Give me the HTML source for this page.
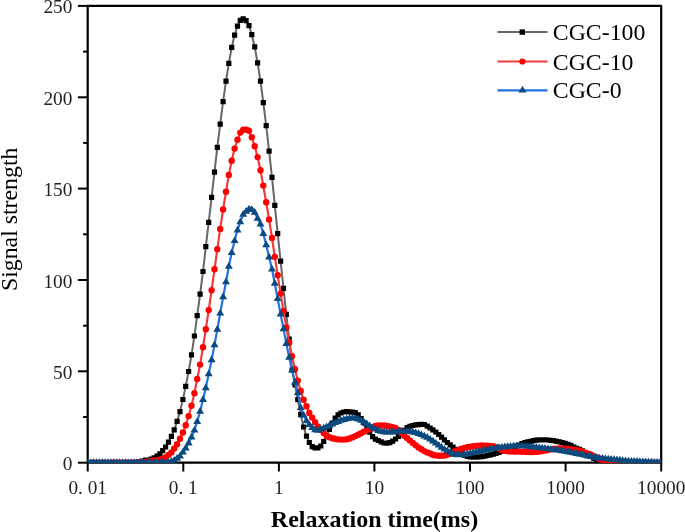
<!DOCTYPE html>
<html><head><meta charset="utf-8"><style>
html,body{margin:0;padding:0;background:#fff;}
body{width:685px;height:532px;overflow:hidden;position:relative;}
svg{position:absolute;left:0;top:0;display:block;will-change:transform;}
text{font-family:"Liberation Serif",serif;fill:#000;}
.t{font-size:19.3px;fill:#222;}
.xt{font-size:24px;font-weight:bold;}
.yt{font-size:23.8px;}
.lg{font-size:23.8px;}
</style></head><body>
<svg width="685" height="532" viewBox="0 0 685 532">
<clipPath id="c"><rect x="87.7" y="5.9" width="573.5" height="457.1"/></clipPath>
<rect x="87.7" y="5.9" width="573.5" height="456.8" fill="none" stroke="#000" stroke-width="2.2" stroke-linejoin="round"/>
<line x1="77.9" y1="462.7" x2="87.7" y2="462.7" stroke="#000" stroke-width="2"/>
<line x1="83.1" y1="417" x2="87.7" y2="417" stroke="#000" stroke-width="2"/>
<line x1="77.9" y1="371.3" x2="87.7" y2="371.3" stroke="#000" stroke-width="2"/>
<line x1="83.1" y1="325.7" x2="87.7" y2="325.7" stroke="#000" stroke-width="2"/>
<line x1="77.9" y1="280" x2="87.7" y2="280" stroke="#000" stroke-width="2"/>
<line x1="83.1" y1="234.3" x2="87.7" y2="234.3" stroke="#000" stroke-width="2"/>
<line x1="77.9" y1="188.6" x2="87.7" y2="188.6" stroke="#000" stroke-width="2"/>
<line x1="83.1" y1="142.9" x2="87.7" y2="142.9" stroke="#000" stroke-width="2"/>
<line x1="77.9" y1="97.3" x2="87.7" y2="97.3" stroke="#000" stroke-width="2"/>
<line x1="83.1" y1="51.6" x2="87.7" y2="51.6" stroke="#000" stroke-width="2"/>
<line x1="77.9" y1="5.9" x2="87.7" y2="5.9" stroke="#000" stroke-width="2"/>
<line x1="87.7" y1="462.7" x2="87.7" y2="471.5" stroke="#000" stroke-width="2"/>
<line x1="183.3" y1="462.7" x2="183.3" y2="471.5" stroke="#000" stroke-width="2"/>
<line x1="278.9" y1="462.7" x2="278.9" y2="471.5" stroke="#000" stroke-width="2"/>
<line x1="374.4" y1="462.7" x2="374.4" y2="471.5" stroke="#000" stroke-width="2"/>
<line x1="470" y1="462.7" x2="470" y2="471.5" stroke="#000" stroke-width="2"/>
<line x1="565.6" y1="462.7" x2="565.6" y2="471.5" stroke="#000" stroke-width="2"/>
<line x1="661.2" y1="462.7" x2="661.2" y2="471.5" stroke="#000" stroke-width="2"/>
<g clip-path="url(#c)">
<path d="M88 462.7 L90.9 462.7 L93.7 462.7 L96.6 462.7 L99.5 462.7 L102.4 462.7 L105.2 462.7 L108.1 462.7 L111 462.7 L113.9 462.7 L116.7 462.7 L119.6 462.7 L122.5 462.7 L125.4 462.7 L128.2 462.6 L131.1 462.6 L134 462.5 L136.9 462.3 L139.7 461.8 L142.6 461.1 L145.5 460.2 L148.4 460.1 L151.2 459 L154.1 457.8 L157 456 L159.9 453.8 L162.7 450.6 L165.6 447 L168.5 442.2 L171.4 436.4 L174.2 429.9 L177.1 421.4 L180 411.6 L182.9 399.5 L185.7 386.4 L188.6 371.5 L191.5 354.8 L194.4 336 L197.2 315.7 L200.1 294.1 L203 271.5 L205.8 246.7 L208.7 222.3 L211.6 197.3 L214.5 172.1 L217.3 147.3 L220.2 124.2 L223.1 101.6 L226 81.2 L228.8 63.4 L231.7 47.4 L234.6 35.2 L237.5 26.2 L240.3 20.3 L243.2 18.9 L246.1 20.6 L249 25.7 L251.8 34.7 L254.7 46.9 L257.6 62.9 L260.5 81.2 L263.3 102.6 L266.2 125.7 L269.1 151.1 L272 177.4 L274.8 205.4 L277.7 233.6 L280.6 261.2 L283.5 288.3 L286.3 314.4 L289.2 339.2 L292.1 370 L295 384.9 L297.8 399.7 L300.7 414.7 L303.6 427 L306.5 436.1 L309.3 442.5 L312.2 446.6 L315.1 448 L317.9 447.8 L320.8 446 L323.7 441.5 L326.6 436.1 L329.4 429.4 L332.3 423 L335.2 418.2 L338.1 414.9 L340.9 413 L343.8 412 L346.7 411.6 L349.6 411.8 L352.4 412.2 L355.3 412.7 L358.2 414.9 L361.1 418.7 L363.9 422.9 L366.8 427.4 L369.7 432.2 L372.6 436.7 L375.4 439.1 L378.3 440.5 L381.2 441.9 L384.1 443 L386.9 443.2 L389.8 442.6 L392.7 441.1 L395.6 439 L398.4 436.4 L401.3 433.5 L404.2 430.4 L407.1 427.5 L409.9 426.3 L412.8 425.5 L415.7 424.9 L418.6 424.6 L421.4 424.3 L424.3 424.5 L427.2 426.1 L430.1 428 L432.9 429.9 L435.8 432 L438.7 434.5 L441.5 437.1 L444.4 439.9 L447.3 442.5 L450.2 444.8 L453 447.1 L455.9 449.3 L458.8 451.6 L461.7 453.7 L464.5 455.4 L467.4 456.5 L470.3 457 L473.2 457.2 L476 457.1 L478.9 456.9 L481.8 456.6 L484.7 456.1 L487.5 455.5 L490.4 454.8 L493.3 454.1 L496.2 453.4 L499 452.5 L501.9 451.4 L504.8 450.7 L507.7 449.7 L510.5 448.5 L513.4 447.3 L516.3 446.2 L519.2 445.1 L522 443.7 L524.9 442.6 L527.8 441.9 L530.7 441.3 L533.5 440.6 L536.4 440.1 L539.3 439.9 L542.2 439.8 L545 439.9 L547.9 440 L550.8 440.3 L553.6 440.7 L556.5 441.3 L559.4 441.9 L562.3 442.6 L565.1 443.4 L568 444.3 L570.9 445.4 L573.8 447 L576.6 448.3 L579.5 449.4 L582.4 450.8 L585.3 452.5 L588.1 454.5 L591 456.5 L593.9 458.5 L596.8 460.2 L599.6 461.3 L602.5 461.8 L605.4 462 L608.3 462.2 L611.1 462.3 L614 462.4 L616.9 462.5 L619.8 462.6 L622.6 462.6 L625.5 462.7 L628.4 462.7 L631.3 462.7 L634.1 462.7 L637 462.7 L639.9 462.7 L642.8 462.7 L645.6 462.7 L648.5 462.7 L651.4 462.7 L654.3 462.7 L657.1 462.7 L660 462.7" fill="none" stroke="#666666" stroke-width="2"/>
<path d="M85.4 460.1h5.2v5.2h-5.2zM88.3 460.1h5.2v5.2h-5.2zM91.1 460.1h5.2v5.2h-5.2zM94 460.1h5.2v5.2h-5.2zM96.9 460.1h5.2v5.2h-5.2zM99.8 460.1h5.2v5.2h-5.2zM102.6 460.1h5.2v5.2h-5.2zM105.5 460.1h5.2v5.2h-5.2zM108.4 460.1h5.2v5.2h-5.2zM111.3 460.1h5.2v5.2h-5.2zM114.1 460.1h5.2v5.2h-5.2zM117 460.1h5.2v5.2h-5.2zM119.9 460.1h5.2v5.2h-5.2zM122.8 460.1h5.2v5.2h-5.2zM125.6 460h5.2v5.2h-5.2zM128.5 460h5.2v5.2h-5.2zM131.4 459.9h5.2v5.2h-5.2zM134.3 459.7h5.2v5.2h-5.2zM137.1 459.2h5.2v5.2h-5.2zM140 458.5h5.2v5.2h-5.2zM142.9 457.6h5.2v5.2h-5.2zM145.8 457.5h5.2v5.2h-5.2zM148.6 456.4h5.2v5.2h-5.2zM151.5 455.2h5.2v5.2h-5.2zM154.4 453.4h5.2v5.2h-5.2zM157.3 451.2h5.2v5.2h-5.2zM160.1 448h5.2v5.2h-5.2zM163 444.4h5.2v5.2h-5.2zM165.9 439.6h5.2v5.2h-5.2zM168.8 433.8h5.2v5.2h-5.2zM171.6 427.3h5.2v5.2h-5.2zM174.5 418.8h5.2v5.2h-5.2zM177.4 409h5.2v5.2h-5.2zM180.3 396.9h5.2v5.2h-5.2zM183.1 383.8h5.2v5.2h-5.2zM186 368.9h5.2v5.2h-5.2zM188.9 352.2h5.2v5.2h-5.2zM191.8 333.4h5.2v5.2h-5.2zM194.6 313.1h5.2v5.2h-5.2zM197.5 291.5h5.2v5.2h-5.2zM200.4 268.9h5.2v5.2h-5.2zM203.2 244.1h5.2v5.2h-5.2zM206.1 219.7h5.2v5.2h-5.2zM209 194.7h5.2v5.2h-5.2zM211.9 169.5h5.2v5.2h-5.2zM214.7 144.7h5.2v5.2h-5.2zM217.6 121.6h5.2v5.2h-5.2zM220.5 99h5.2v5.2h-5.2zM223.4 78.6h5.2v5.2h-5.2zM226.2 60.8h5.2v5.2h-5.2zM229.1 44.8h5.2v5.2h-5.2zM232 32.6h5.2v5.2h-5.2zM234.9 23.6h5.2v5.2h-5.2zM237.7 17.7h5.2v5.2h-5.2zM240.6 16.3h5.2v5.2h-5.2zM243.5 18h5.2v5.2h-5.2zM246.4 23.1h5.2v5.2h-5.2zM249.2 32.1h5.2v5.2h-5.2zM252.1 44.3h5.2v5.2h-5.2zM255 60.3h5.2v5.2h-5.2zM257.9 78.6h5.2v5.2h-5.2zM260.7 100h5.2v5.2h-5.2zM263.6 123.1h5.2v5.2h-5.2zM266.5 148.5h5.2v5.2h-5.2zM269.4 174.8h5.2v5.2h-5.2zM272.2 202.8h5.2v5.2h-5.2zM275.1 231h5.2v5.2h-5.2zM278 258.6h5.2v5.2h-5.2zM280.9 285.7h5.2v5.2h-5.2zM283.7 311.8h5.2v5.2h-5.2zM286.6 336.6h5.2v5.2h-5.2zM289.5 367.4h5.2v5.2h-5.2zM292.4 382.3h5.2v5.2h-5.2zM295.2 397.1h5.2v5.2h-5.2zM298.1 412.1h5.2v5.2h-5.2zM301 424.4h5.2v5.2h-5.2zM303.9 433.5h5.2v5.2h-5.2zM306.7 439.9h5.2v5.2h-5.2zM309.6 444h5.2v5.2h-5.2zM312.5 445.4h5.2v5.2h-5.2zM315.3 445.2h5.2v5.2h-5.2zM318.2 443.4h5.2v5.2h-5.2zM321.1 438.9h5.2v5.2h-5.2zM324 433.5h5.2v5.2h-5.2zM326.8 426.8h5.2v5.2h-5.2zM329.7 420.4h5.2v5.2h-5.2zM332.6 415.6h5.2v5.2h-5.2zM335.5 412.3h5.2v5.2h-5.2zM338.3 410.4h5.2v5.2h-5.2zM341.2 409.4h5.2v5.2h-5.2zM344.1 409h5.2v5.2h-5.2zM347 409.2h5.2v5.2h-5.2zM349.8 409.6h5.2v5.2h-5.2zM352.7 410.1h5.2v5.2h-5.2zM355.6 412.3h5.2v5.2h-5.2zM358.5 416.1h5.2v5.2h-5.2zM361.3 420.3h5.2v5.2h-5.2zM364.2 424.8h5.2v5.2h-5.2zM367.1 429.6h5.2v5.2h-5.2zM370 434.1h5.2v5.2h-5.2zM372.8 436.5h5.2v5.2h-5.2zM375.7 437.9h5.2v5.2h-5.2zM378.6 439.3h5.2v5.2h-5.2zM381.5 440.4h5.2v5.2h-5.2zM384.3 440.6h5.2v5.2h-5.2zM387.2 440h5.2v5.2h-5.2zM390.1 438.5h5.2v5.2h-5.2zM393 436.4h5.2v5.2h-5.2zM395.8 433.8h5.2v5.2h-5.2zM398.7 430.9h5.2v5.2h-5.2zM401.6 427.8h5.2v5.2h-5.2zM404.5 424.9h5.2v5.2h-5.2zM407.3 423.7h5.2v5.2h-5.2zM410.2 422.9h5.2v5.2h-5.2zM413.1 422.3h5.2v5.2h-5.2zM416 422h5.2v5.2h-5.2zM418.8 421.7h5.2v5.2h-5.2zM421.7 421.9h5.2v5.2h-5.2zM424.6 423.5h5.2v5.2h-5.2zM427.5 425.4h5.2v5.2h-5.2zM430.3 427.3h5.2v5.2h-5.2zM433.2 429.4h5.2v5.2h-5.2zM436.1 431.9h5.2v5.2h-5.2zM438.9 434.5h5.2v5.2h-5.2zM441.8 437.3h5.2v5.2h-5.2zM444.7 439.9h5.2v5.2h-5.2zM447.6 442.2h5.2v5.2h-5.2zM450.4 444.5h5.2v5.2h-5.2zM453.3 446.7h5.2v5.2h-5.2zM456.2 449h5.2v5.2h-5.2zM459.1 451.1h5.2v5.2h-5.2zM461.9 452.8h5.2v5.2h-5.2zM464.8 453.9h5.2v5.2h-5.2zM467.7 454.4h5.2v5.2h-5.2zM470.6 454.6h5.2v5.2h-5.2zM473.4 454.5h5.2v5.2h-5.2zM476.3 454.3h5.2v5.2h-5.2zM479.2 454h5.2v5.2h-5.2zM482.1 453.5h5.2v5.2h-5.2zM484.9 452.9h5.2v5.2h-5.2zM487.8 452.2h5.2v5.2h-5.2zM490.7 451.5h5.2v5.2h-5.2zM493.6 450.8h5.2v5.2h-5.2zM496.4 449.9h5.2v5.2h-5.2zM499.3 448.8h5.2v5.2h-5.2zM502.2 448.1h5.2v5.2h-5.2zM505.1 447.1h5.2v5.2h-5.2zM507.9 445.9h5.2v5.2h-5.2zM510.8 444.7h5.2v5.2h-5.2zM513.7 443.6h5.2v5.2h-5.2zM516.6 442.5h5.2v5.2h-5.2zM519.4 441.1h5.2v5.2h-5.2zM522.3 440h5.2v5.2h-5.2zM525.2 439.3h5.2v5.2h-5.2zM528.1 438.7h5.2v5.2h-5.2zM530.9 438h5.2v5.2h-5.2zM533.8 437.5h5.2v5.2h-5.2zM536.7 437.3h5.2v5.2h-5.2zM539.6 437.2h5.2v5.2h-5.2zM542.4 437.3h5.2v5.2h-5.2zM545.3 437.4h5.2v5.2h-5.2zM548.2 437.7h5.2v5.2h-5.2zM551 438.1h5.2v5.2h-5.2zM553.9 438.7h5.2v5.2h-5.2zM556.8 439.3h5.2v5.2h-5.2zM559.7 440h5.2v5.2h-5.2zM562.5 440.8h5.2v5.2h-5.2zM565.4 441.7h5.2v5.2h-5.2zM568.3 442.8h5.2v5.2h-5.2zM571.2 444.4h5.2v5.2h-5.2zM574 445.7h5.2v5.2h-5.2zM576.9 446.8h5.2v5.2h-5.2zM579.8 448.2h5.2v5.2h-5.2zM582.7 449.9h5.2v5.2h-5.2zM585.5 451.9h5.2v5.2h-5.2zM588.4 453.9h5.2v5.2h-5.2zM591.3 455.9h5.2v5.2h-5.2zM594.2 457.6h5.2v5.2h-5.2zM597 458.7h5.2v5.2h-5.2zM599.9 459.2h5.2v5.2h-5.2zM602.8 459.4h5.2v5.2h-5.2zM605.7 459.6h5.2v5.2h-5.2zM608.5 459.7h5.2v5.2h-5.2zM611.4 459.8h5.2v5.2h-5.2zM614.3 459.9h5.2v5.2h-5.2zM617.2 460h5.2v5.2h-5.2zM620 460h5.2v5.2h-5.2zM622.9 460.1h5.2v5.2h-5.2zM625.8 460.1h5.2v5.2h-5.2zM628.7 460.1h5.2v5.2h-5.2zM631.5 460.1h5.2v5.2h-5.2zM634.4 460.1h5.2v5.2h-5.2zM637.3 460.1h5.2v5.2h-5.2zM640.2 460.1h5.2v5.2h-5.2zM643 460.1h5.2v5.2h-5.2zM645.9 460.1h5.2v5.2h-5.2zM648.8 460.1h5.2v5.2h-5.2zM651.7 460.1h5.2v5.2h-5.2zM654.5 460.1h5.2v5.2h-5.2zM657.4 460.1h5.2v5.2h-5.2z" fill="#000"/>
<path d="M88 462.7 L90.9 462.7 L93.7 462.7 L96.6 462.7 L99.5 462.7 L102.4 462.7 L105.2 462.7 L108.1 462.7 L111 462.7 L113.9 462.7 L116.7 462.7 L119.6 462.7 L122.5 462.7 L125.4 462.7 L128.2 462.7 L131.1 462.7 L134 462.6 L136.9 462.5 L139.7 462.4 L142.6 462.2 L145.5 461.9 L148.4 461.5 L151.2 461 L154.1 460.5 L157 460.1 L159.9 459.7 L162.7 458.6 L165.6 457.1 L168.5 455 L171.4 452.4 L174.2 448.5 L177.1 444.2 L180 438.8 L182.9 432.5 L185.7 425.3 L188.6 416.1 L191.5 405.7 L194.4 393.2 L197.2 379 L200.1 364.6 L203 347.3 L205.8 329.2 L208.7 310.1 L211.6 290.3 L214.5 269.3 L217.3 249.2 L220.2 228.9 L223.1 209.5 L226 191.7 L228.8 174.9 L231.7 160.8 L234.6 148.6 L237.5 139.8 L240.3 132.6 L243.2 129.8 L246.1 129.6 L249 130.8 L251.8 137.3 L254.7 146.2 L257.6 157.1 L260.5 170.2 L263.3 185.6 L266.2 202.2 L269.1 219.5 L272 237.9 L274.8 256.7 L277.7 275.3 L280.6 293.6 L283.5 310.9 L286.3 327.4 L289.2 342.7 L292.1 356.2 L295 369.3 L297.8 380.6 L300.7 391 L303.6 399.7 L306.5 406.3 L309.3 413 L312.2 417.6 L315.1 422.1 L317.9 426.4 L320.8 429.7 L323.7 432.9 L326.6 435.9 L329.4 437.3 L332.3 438.3 L335.2 438.9 L338.1 439.4 L340.9 439.6 L343.8 439.6 L346.7 439.3 L349.6 438.5 L352.4 437.4 L355.3 436.1 L358.2 434.7 L361.1 433.2 L363.9 431.8 L366.8 430.4 L369.7 428.8 L372.6 427.2 L375.4 426 L378.3 425.5 L381.2 425.4 L384.1 425.5 L386.9 426 L389.8 426.5 L392.7 427.1 L395.6 428 L398.4 429.9 L401.3 432.9 L404.2 435.7 L407.1 438 L409.9 440.4 L412.8 442.9 L415.7 445.3 L418.6 447.4 L421.4 449.3 L424.3 451.1 L427.2 452.4 L430.1 453.5 L432.9 454.7 L435.8 455.4 L438.7 455.8 L441.5 455.8 L444.4 455.5 L447.3 454.8 L450.2 453.7 L453 452.1 L455.9 450.7 L458.8 450 L461.7 448.8 L464.5 447.9 L467.4 447.3 L470.3 446.8 L473.2 446.3 L476 446 L478.9 445.7 L481.8 445.5 L484.7 445.6 L487.5 445.8 L490.4 446 L493.3 446.3 L496.2 447.2 L499 448.6 L501.9 449.9 L504.8 450.9 L507.7 451.3 L510.5 451.4 L513.4 451.5 L516.3 451.6 L519.2 451.6 L522 451.7 L524.9 451.8 L527.8 451.9 L530.7 452 L533.5 452 L536.4 451.9 L539.3 451.6 L542.2 451.1 L545 450.6 L547.9 450 L550.8 449.4 L553.6 448.9 L556.5 448.6 L559.4 448.5 L562.3 448.5 L565.1 448.7 L568 448.9 L570.9 449.3 L573.8 449.7 L576.6 450.1 L579.5 450.7 L582.4 451.7 L585.3 452.7 L588.1 453.7 L591 454.8 L593.9 456.1 L596.8 457.5 L599.6 458.9 L602.5 460.2 L605.4 461.1 L608.3 461.6 L611.1 461.9 L614 462.2 L616.9 462.3 L619.8 462.4 L622.6 462.5 L625.5 462.5 L628.4 462.6 L631.3 462.6 L634.1 462.6 L637 462.7 L639.9 462.7 L642.8 462.7 L645.6 462.7 L648.5 462.7 L651.4 462.7 L654.3 462.7 L657.1 462.7 L660 462.7" fill="none" stroke="#f23c3c" stroke-width="2.2"/>
<path d="M84.8 462.7a3.2 3.2 0 1 0 6.4 0a3.2 3.2 0 1 0 -6.4 0zM87.7 462.7a3.2 3.2 0 1 0 6.4 0a3.2 3.2 0 1 0 -6.4 0zM90.5 462.7a3.2 3.2 0 1 0 6.4 0a3.2 3.2 0 1 0 -6.4 0zM93.4 462.7a3.2 3.2 0 1 0 6.4 0a3.2 3.2 0 1 0 -6.4 0zM96.3 462.7a3.2 3.2 0 1 0 6.4 0a3.2 3.2 0 1 0 -6.4 0zM99.2 462.7a3.2 3.2 0 1 0 6.4 0a3.2 3.2 0 1 0 -6.4 0zM102 462.7a3.2 3.2 0 1 0 6.4 0a3.2 3.2 0 1 0 -6.4 0zM104.9 462.7a3.2 3.2 0 1 0 6.4 0a3.2 3.2 0 1 0 -6.4 0zM107.8 462.7a3.2 3.2 0 1 0 6.4 0a3.2 3.2 0 1 0 -6.4 0zM110.7 462.7a3.2 3.2 0 1 0 6.4 0a3.2 3.2 0 1 0 -6.4 0zM113.5 462.7a3.2 3.2 0 1 0 6.4 0a3.2 3.2 0 1 0 -6.4 0zM116.4 462.7a3.2 3.2 0 1 0 6.4 0a3.2 3.2 0 1 0 -6.4 0zM119.3 462.7a3.2 3.2 0 1 0 6.4 0a3.2 3.2 0 1 0 -6.4 0zM122.2 462.7a3.2 3.2 0 1 0 6.4 0a3.2 3.2 0 1 0 -6.4 0zM125 462.7a3.2 3.2 0 1 0 6.4 0a3.2 3.2 0 1 0 -6.4 0zM127.9 462.7a3.2 3.2 0 1 0 6.4 0a3.2 3.2 0 1 0 -6.4 0zM130.8 462.6a3.2 3.2 0 1 0 6.4 0a3.2 3.2 0 1 0 -6.4 0zM133.7 462.5a3.2 3.2 0 1 0 6.4 0a3.2 3.2 0 1 0 -6.4 0zM136.5 462.4a3.2 3.2 0 1 0 6.4 0a3.2 3.2 0 1 0 -6.4 0zM139.4 462.2a3.2 3.2 0 1 0 6.4 0a3.2 3.2 0 1 0 -6.4 0zM142.3 461.9a3.2 3.2 0 1 0 6.4 0a3.2 3.2 0 1 0 -6.4 0zM145.2 461.5a3.2 3.2 0 1 0 6.4 0a3.2 3.2 0 1 0 -6.4 0zM148 461a3.2 3.2 0 1 0 6.4 0a3.2 3.2 0 1 0 -6.4 0zM150.9 460.5a3.2 3.2 0 1 0 6.4 0a3.2 3.2 0 1 0 -6.4 0zM153.8 460.1a3.2 3.2 0 1 0 6.4 0a3.2 3.2 0 1 0 -6.4 0zM156.7 459.7a3.2 3.2 0 1 0 6.4 0a3.2 3.2 0 1 0 -6.4 0zM159.5 458.6a3.2 3.2 0 1 0 6.4 0a3.2 3.2 0 1 0 -6.4 0zM162.4 457.1a3.2 3.2 0 1 0 6.4 0a3.2 3.2 0 1 0 -6.4 0zM165.3 455a3.2 3.2 0 1 0 6.4 0a3.2 3.2 0 1 0 -6.4 0zM168.2 452.4a3.2 3.2 0 1 0 6.4 0a3.2 3.2 0 1 0 -6.4 0zM171 448.5a3.2 3.2 0 1 0 6.4 0a3.2 3.2 0 1 0 -6.4 0zM173.9 444.2a3.2 3.2 0 1 0 6.4 0a3.2 3.2 0 1 0 -6.4 0zM176.8 438.8a3.2 3.2 0 1 0 6.4 0a3.2 3.2 0 1 0 -6.4 0zM179.7 432.5a3.2 3.2 0 1 0 6.4 0a3.2 3.2 0 1 0 -6.4 0zM182.5 425.3a3.2 3.2 0 1 0 6.4 0a3.2 3.2 0 1 0 -6.4 0zM185.4 416.1a3.2 3.2 0 1 0 6.4 0a3.2 3.2 0 1 0 -6.4 0zM188.3 405.7a3.2 3.2 0 1 0 6.4 0a3.2 3.2 0 1 0 -6.4 0zM191.2 393.2a3.2 3.2 0 1 0 6.4 0a3.2 3.2 0 1 0 -6.4 0zM194 379a3.2 3.2 0 1 0 6.4 0a3.2 3.2 0 1 0 -6.4 0zM196.9 364.6a3.2 3.2 0 1 0 6.4 0a3.2 3.2 0 1 0 -6.4 0zM199.8 347.3a3.2 3.2 0 1 0 6.4 0a3.2 3.2 0 1 0 -6.4 0zM202.6 329.2a3.2 3.2 0 1 0 6.4 0a3.2 3.2 0 1 0 -6.4 0zM205.5 310.1a3.2 3.2 0 1 0 6.4 0a3.2 3.2 0 1 0 -6.4 0zM208.4 290.3a3.2 3.2 0 1 0 6.4 0a3.2 3.2 0 1 0 -6.4 0zM211.3 269.3a3.2 3.2 0 1 0 6.4 0a3.2 3.2 0 1 0 -6.4 0zM214.1 249.2a3.2 3.2 0 1 0 6.4 0a3.2 3.2 0 1 0 -6.4 0zM217 228.9a3.2 3.2 0 1 0 6.4 0a3.2 3.2 0 1 0 -6.4 0zM219.9 209.5a3.2 3.2 0 1 0 6.4 0a3.2 3.2 0 1 0 -6.4 0zM222.8 191.7a3.2 3.2 0 1 0 6.4 0a3.2 3.2 0 1 0 -6.4 0zM225.6 174.9a3.2 3.2 0 1 0 6.4 0a3.2 3.2 0 1 0 -6.4 0zM228.5 160.8a3.2 3.2 0 1 0 6.4 0a3.2 3.2 0 1 0 -6.4 0zM231.4 148.6a3.2 3.2 0 1 0 6.4 0a3.2 3.2 0 1 0 -6.4 0zM234.3 139.8a3.2 3.2 0 1 0 6.4 0a3.2 3.2 0 1 0 -6.4 0zM237.1 132.6a3.2 3.2 0 1 0 6.4 0a3.2 3.2 0 1 0 -6.4 0zM240 129.8a3.2 3.2 0 1 0 6.4 0a3.2 3.2 0 1 0 -6.4 0zM242.9 129.6a3.2 3.2 0 1 0 6.4 0a3.2 3.2 0 1 0 -6.4 0zM245.8 130.8a3.2 3.2 0 1 0 6.4 0a3.2 3.2 0 1 0 -6.4 0zM248.6 137.3a3.2 3.2 0 1 0 6.4 0a3.2 3.2 0 1 0 -6.4 0zM251.5 146.2a3.2 3.2 0 1 0 6.4 0a3.2 3.2 0 1 0 -6.4 0zM254.4 157.1a3.2 3.2 0 1 0 6.4 0a3.2 3.2 0 1 0 -6.4 0zM257.3 170.2a3.2 3.2 0 1 0 6.4 0a3.2 3.2 0 1 0 -6.4 0zM260.1 185.6a3.2 3.2 0 1 0 6.4 0a3.2 3.2 0 1 0 -6.4 0zM263 202.2a3.2 3.2 0 1 0 6.4 0a3.2 3.2 0 1 0 -6.4 0zM265.9 219.5a3.2 3.2 0 1 0 6.4 0a3.2 3.2 0 1 0 -6.4 0zM268.8 237.9a3.2 3.2 0 1 0 6.4 0a3.2 3.2 0 1 0 -6.4 0zM271.6 256.7a3.2 3.2 0 1 0 6.4 0a3.2 3.2 0 1 0 -6.4 0zM274.5 275.3a3.2 3.2 0 1 0 6.4 0a3.2 3.2 0 1 0 -6.4 0zM277.4 293.6a3.2 3.2 0 1 0 6.4 0a3.2 3.2 0 1 0 -6.4 0zM280.3 310.9a3.2 3.2 0 1 0 6.4 0a3.2 3.2 0 1 0 -6.4 0zM283.1 327.4a3.2 3.2 0 1 0 6.4 0a3.2 3.2 0 1 0 -6.4 0zM286 342.7a3.2 3.2 0 1 0 6.4 0a3.2 3.2 0 1 0 -6.4 0zM288.9 356.2a3.2 3.2 0 1 0 6.4 0a3.2 3.2 0 1 0 -6.4 0zM291.8 369.3a3.2 3.2 0 1 0 6.4 0a3.2 3.2 0 1 0 -6.4 0zM294.6 380.6a3.2 3.2 0 1 0 6.4 0a3.2 3.2 0 1 0 -6.4 0zM297.5 391a3.2 3.2 0 1 0 6.4 0a3.2 3.2 0 1 0 -6.4 0zM300.4 399.7a3.2 3.2 0 1 0 6.4 0a3.2 3.2 0 1 0 -6.4 0zM303.3 406.3a3.2 3.2 0 1 0 6.4 0a3.2 3.2 0 1 0 -6.4 0zM306.1 413a3.2 3.2 0 1 0 6.4 0a3.2 3.2 0 1 0 -6.4 0zM309 417.6a3.2 3.2 0 1 0 6.4 0a3.2 3.2 0 1 0 -6.4 0zM311.9 422.1a3.2 3.2 0 1 0 6.4 0a3.2 3.2 0 1 0 -6.4 0zM314.7 426.4a3.2 3.2 0 1 0 6.4 0a3.2 3.2 0 1 0 -6.4 0zM317.6 429.7a3.2 3.2 0 1 0 6.4 0a3.2 3.2 0 1 0 -6.4 0zM320.5 432.9a3.2 3.2 0 1 0 6.4 0a3.2 3.2 0 1 0 -6.4 0zM323.4 435.9a3.2 3.2 0 1 0 6.4 0a3.2 3.2 0 1 0 -6.4 0zM326.2 437.3a3.2 3.2 0 1 0 6.4 0a3.2 3.2 0 1 0 -6.4 0zM329.1 438.3a3.2 3.2 0 1 0 6.4 0a3.2 3.2 0 1 0 -6.4 0zM332 438.9a3.2 3.2 0 1 0 6.4 0a3.2 3.2 0 1 0 -6.4 0zM334.9 439.4a3.2 3.2 0 1 0 6.4 0a3.2 3.2 0 1 0 -6.4 0zM337.7 439.6a3.2 3.2 0 1 0 6.4 0a3.2 3.2 0 1 0 -6.4 0zM340.6 439.6a3.2 3.2 0 1 0 6.4 0a3.2 3.2 0 1 0 -6.4 0zM343.5 439.3a3.2 3.2 0 1 0 6.4 0a3.2 3.2 0 1 0 -6.4 0zM346.4 438.5a3.2 3.2 0 1 0 6.4 0a3.2 3.2 0 1 0 -6.4 0zM349.2 437.4a3.2 3.2 0 1 0 6.4 0a3.2 3.2 0 1 0 -6.4 0zM352.1 436.1a3.2 3.2 0 1 0 6.4 0a3.2 3.2 0 1 0 -6.4 0zM355 434.7a3.2 3.2 0 1 0 6.4 0a3.2 3.2 0 1 0 -6.4 0zM357.9 433.2a3.2 3.2 0 1 0 6.4 0a3.2 3.2 0 1 0 -6.4 0zM360.7 431.8a3.2 3.2 0 1 0 6.4 0a3.2 3.2 0 1 0 -6.4 0zM363.6 430.4a3.2 3.2 0 1 0 6.4 0a3.2 3.2 0 1 0 -6.4 0zM366.5 428.8a3.2 3.2 0 1 0 6.4 0a3.2 3.2 0 1 0 -6.4 0zM369.4 427.2a3.2 3.2 0 1 0 6.4 0a3.2 3.2 0 1 0 -6.4 0zM372.2 426a3.2 3.2 0 1 0 6.4 0a3.2 3.2 0 1 0 -6.4 0zM375.1 425.5a3.2 3.2 0 1 0 6.4 0a3.2 3.2 0 1 0 -6.4 0zM378 425.4a3.2 3.2 0 1 0 6.4 0a3.2 3.2 0 1 0 -6.4 0zM380.9 425.5a3.2 3.2 0 1 0 6.4 0a3.2 3.2 0 1 0 -6.4 0zM383.7 426a3.2 3.2 0 1 0 6.4 0a3.2 3.2 0 1 0 -6.4 0zM386.6 426.5a3.2 3.2 0 1 0 6.4 0a3.2 3.2 0 1 0 -6.4 0zM389.5 427.1a3.2 3.2 0 1 0 6.4 0a3.2 3.2 0 1 0 -6.4 0zM392.4 428a3.2 3.2 0 1 0 6.4 0a3.2 3.2 0 1 0 -6.4 0zM395.2 429.9a3.2 3.2 0 1 0 6.4 0a3.2 3.2 0 1 0 -6.4 0zM398.1 432.9a3.2 3.2 0 1 0 6.4 0a3.2 3.2 0 1 0 -6.4 0zM401 435.7a3.2 3.2 0 1 0 6.4 0a3.2 3.2 0 1 0 -6.4 0zM403.9 438a3.2 3.2 0 1 0 6.4 0a3.2 3.2 0 1 0 -6.4 0zM406.7 440.4a3.2 3.2 0 1 0 6.4 0a3.2 3.2 0 1 0 -6.4 0zM409.6 442.9a3.2 3.2 0 1 0 6.4 0a3.2 3.2 0 1 0 -6.4 0zM412.5 445.3a3.2 3.2 0 1 0 6.4 0a3.2 3.2 0 1 0 -6.4 0zM415.4 447.4a3.2 3.2 0 1 0 6.4 0a3.2 3.2 0 1 0 -6.4 0zM418.2 449.3a3.2 3.2 0 1 0 6.4 0a3.2 3.2 0 1 0 -6.4 0zM421.1 451.1a3.2 3.2 0 1 0 6.4 0a3.2 3.2 0 1 0 -6.4 0zM424 452.4a3.2 3.2 0 1 0 6.4 0a3.2 3.2 0 1 0 -6.4 0zM426.9 453.5a3.2 3.2 0 1 0 6.4 0a3.2 3.2 0 1 0 -6.4 0zM429.7 454.7a3.2 3.2 0 1 0 6.4 0a3.2 3.2 0 1 0 -6.4 0zM432.6 455.4a3.2 3.2 0 1 0 6.4 0a3.2 3.2 0 1 0 -6.4 0zM435.5 455.8a3.2 3.2 0 1 0 6.4 0a3.2 3.2 0 1 0 -6.4 0zM438.3 455.8a3.2 3.2 0 1 0 6.4 0a3.2 3.2 0 1 0 -6.4 0zM441.2 455.5a3.2 3.2 0 1 0 6.4 0a3.2 3.2 0 1 0 -6.4 0zM444.1 454.8a3.2 3.2 0 1 0 6.4 0a3.2 3.2 0 1 0 -6.4 0zM447 453.7a3.2 3.2 0 1 0 6.4 0a3.2 3.2 0 1 0 -6.4 0zM449.8 452.1a3.2 3.2 0 1 0 6.4 0a3.2 3.2 0 1 0 -6.4 0zM452.7 450.7a3.2 3.2 0 1 0 6.4 0a3.2 3.2 0 1 0 -6.4 0zM455.6 450a3.2 3.2 0 1 0 6.4 0a3.2 3.2 0 1 0 -6.4 0zM458.5 448.8a3.2 3.2 0 1 0 6.4 0a3.2 3.2 0 1 0 -6.4 0zM461.3 447.9a3.2 3.2 0 1 0 6.4 0a3.2 3.2 0 1 0 -6.4 0zM464.2 447.3a3.2 3.2 0 1 0 6.4 0a3.2 3.2 0 1 0 -6.4 0zM467.1 446.8a3.2 3.2 0 1 0 6.4 0a3.2 3.2 0 1 0 -6.4 0zM470 446.3a3.2 3.2 0 1 0 6.4 0a3.2 3.2 0 1 0 -6.4 0zM472.8 446a3.2 3.2 0 1 0 6.4 0a3.2 3.2 0 1 0 -6.4 0zM475.7 445.7a3.2 3.2 0 1 0 6.4 0a3.2 3.2 0 1 0 -6.4 0zM478.6 445.5a3.2 3.2 0 1 0 6.4 0a3.2 3.2 0 1 0 -6.4 0zM481.5 445.6a3.2 3.2 0 1 0 6.4 0a3.2 3.2 0 1 0 -6.4 0zM484.3 445.8a3.2 3.2 0 1 0 6.4 0a3.2 3.2 0 1 0 -6.4 0zM487.2 446a3.2 3.2 0 1 0 6.4 0a3.2 3.2 0 1 0 -6.4 0zM490.1 446.3a3.2 3.2 0 1 0 6.4 0a3.2 3.2 0 1 0 -6.4 0zM493 447.2a3.2 3.2 0 1 0 6.4 0a3.2 3.2 0 1 0 -6.4 0zM495.8 448.6a3.2 3.2 0 1 0 6.4 0a3.2 3.2 0 1 0 -6.4 0zM498.7 449.9a3.2 3.2 0 1 0 6.4 0a3.2 3.2 0 1 0 -6.4 0zM501.6 450.9a3.2 3.2 0 1 0 6.4 0a3.2 3.2 0 1 0 -6.4 0zM504.5 451.3a3.2 3.2 0 1 0 6.4 0a3.2 3.2 0 1 0 -6.4 0zM507.3 451.4a3.2 3.2 0 1 0 6.4 0a3.2 3.2 0 1 0 -6.4 0zM510.2 451.5a3.2 3.2 0 1 0 6.4 0a3.2 3.2 0 1 0 -6.4 0zM513.1 451.6a3.2 3.2 0 1 0 6.4 0a3.2 3.2 0 1 0 -6.4 0zM516 451.6a3.2 3.2 0 1 0 6.4 0a3.2 3.2 0 1 0 -6.4 0zM518.8 451.7a3.2 3.2 0 1 0 6.4 0a3.2 3.2 0 1 0 -6.4 0zM521.7 451.8a3.2 3.2 0 1 0 6.4 0a3.2 3.2 0 1 0 -6.4 0zM524.6 451.9a3.2 3.2 0 1 0 6.4 0a3.2 3.2 0 1 0 -6.4 0zM527.5 452a3.2 3.2 0 1 0 6.4 0a3.2 3.2 0 1 0 -6.4 0zM530.3 452a3.2 3.2 0 1 0 6.4 0a3.2 3.2 0 1 0 -6.4 0zM533.2 451.9a3.2 3.2 0 1 0 6.4 0a3.2 3.2 0 1 0 -6.4 0zM536.1 451.6a3.2 3.2 0 1 0 6.4 0a3.2 3.2 0 1 0 -6.4 0zM539 451.1a3.2 3.2 0 1 0 6.4 0a3.2 3.2 0 1 0 -6.4 0zM541.8 450.6a3.2 3.2 0 1 0 6.4 0a3.2 3.2 0 1 0 -6.4 0zM544.7 450a3.2 3.2 0 1 0 6.4 0a3.2 3.2 0 1 0 -6.4 0zM547.6 449.4a3.2 3.2 0 1 0 6.4 0a3.2 3.2 0 1 0 -6.4 0zM550.4 448.9a3.2 3.2 0 1 0 6.4 0a3.2 3.2 0 1 0 -6.4 0zM553.3 448.6a3.2 3.2 0 1 0 6.4 0a3.2 3.2 0 1 0 -6.4 0zM556.2 448.5a3.2 3.2 0 1 0 6.4 0a3.2 3.2 0 1 0 -6.4 0zM559.1 448.5a3.2 3.2 0 1 0 6.4 0a3.2 3.2 0 1 0 -6.4 0zM561.9 448.7a3.2 3.2 0 1 0 6.4 0a3.2 3.2 0 1 0 -6.4 0zM564.8 448.9a3.2 3.2 0 1 0 6.4 0a3.2 3.2 0 1 0 -6.4 0zM567.7 449.3a3.2 3.2 0 1 0 6.4 0a3.2 3.2 0 1 0 -6.4 0zM570.6 449.7a3.2 3.2 0 1 0 6.4 0a3.2 3.2 0 1 0 -6.4 0zM573.4 450.1a3.2 3.2 0 1 0 6.4 0a3.2 3.2 0 1 0 -6.4 0zM576.3 450.7a3.2 3.2 0 1 0 6.4 0a3.2 3.2 0 1 0 -6.4 0zM579.2 451.7a3.2 3.2 0 1 0 6.4 0a3.2 3.2 0 1 0 -6.4 0zM582.1 452.7a3.2 3.2 0 1 0 6.4 0a3.2 3.2 0 1 0 -6.4 0zM584.9 453.7a3.2 3.2 0 1 0 6.4 0a3.2 3.2 0 1 0 -6.4 0zM587.8 454.8a3.2 3.2 0 1 0 6.4 0a3.2 3.2 0 1 0 -6.4 0zM590.7 456.1a3.2 3.2 0 1 0 6.4 0a3.2 3.2 0 1 0 -6.4 0zM593.6 457.5a3.2 3.2 0 1 0 6.4 0a3.2 3.2 0 1 0 -6.4 0zM596.4 458.9a3.2 3.2 0 1 0 6.4 0a3.2 3.2 0 1 0 -6.4 0zM599.3 460.2a3.2 3.2 0 1 0 6.4 0a3.2 3.2 0 1 0 -6.4 0zM602.2 461.1a3.2 3.2 0 1 0 6.4 0a3.2 3.2 0 1 0 -6.4 0zM605.1 461.6a3.2 3.2 0 1 0 6.4 0a3.2 3.2 0 1 0 -6.4 0zM607.9 461.9a3.2 3.2 0 1 0 6.4 0a3.2 3.2 0 1 0 -6.4 0zM610.8 462.2a3.2 3.2 0 1 0 6.4 0a3.2 3.2 0 1 0 -6.4 0zM613.7 462.3a3.2 3.2 0 1 0 6.4 0a3.2 3.2 0 1 0 -6.4 0zM616.6 462.4a3.2 3.2 0 1 0 6.4 0a3.2 3.2 0 1 0 -6.4 0zM619.4 462.5a3.2 3.2 0 1 0 6.4 0a3.2 3.2 0 1 0 -6.4 0zM622.3 462.5a3.2 3.2 0 1 0 6.4 0a3.2 3.2 0 1 0 -6.4 0zM625.2 462.6a3.2 3.2 0 1 0 6.4 0a3.2 3.2 0 1 0 -6.4 0zM628.1 462.6a3.2 3.2 0 1 0 6.4 0a3.2 3.2 0 1 0 -6.4 0zM630.9 462.6a3.2 3.2 0 1 0 6.4 0a3.2 3.2 0 1 0 -6.4 0zM633.8 462.7a3.2 3.2 0 1 0 6.4 0a3.2 3.2 0 1 0 -6.4 0zM636.7 462.7a3.2 3.2 0 1 0 6.4 0a3.2 3.2 0 1 0 -6.4 0zM639.6 462.7a3.2 3.2 0 1 0 6.4 0a3.2 3.2 0 1 0 -6.4 0zM642.4 462.7a3.2 3.2 0 1 0 6.4 0a3.2 3.2 0 1 0 -6.4 0zM645.3 462.7a3.2 3.2 0 1 0 6.4 0a3.2 3.2 0 1 0 -6.4 0zM648.2 462.7a3.2 3.2 0 1 0 6.4 0a3.2 3.2 0 1 0 -6.4 0zM651.1 462.7a3.2 3.2 0 1 0 6.4 0a3.2 3.2 0 1 0 -6.4 0zM653.9 462.7a3.2 3.2 0 1 0 6.4 0a3.2 3.2 0 1 0 -6.4 0zM656.8 462.7a3.2 3.2 0 1 0 6.4 0a3.2 3.2 0 1 0 -6.4 0z" fill="#ff0000"/>
<path d="M88 462.6 L90.9 462.6 L93.7 462.6 L96.6 462.6 L99.5 462.6 L102.4 462.6 L105.2 462.7 L108.1 462.7 L111 462.7 L113.9 462.7 L116.7 462.7 L119.6 462.7 L122.5 462.7 L125.4 462.7 L128.2 462.7 L131.1 462.6 L134 462.6 L136.9 462.6 L139.7 462.6 L142.6 462.6 L145.5 462.6 L148.4 462.6 L151.2 462.6 L154.1 462.6 L157 462.5 L159.9 462.5 L162.7 462.4 L165.6 462.3 L168.5 462.2 L171.4 461.5 L174.2 460.3 L177.1 458.5 L180 456.1 L182.9 452.3 L185.7 448.1 L188.6 443.2 L191.5 437.2 L194.4 430.3 L197.2 421.7 L200.1 411.4 L203 399.6 L205.8 388 L208.7 374 L211.6 360 L214.5 344.9 L217.3 329.5 L220.2 313.3 L223.1 297 L226 282 L228.8 266.5 L231.7 252.8 L234.6 240.8 L237.5 230.2 L240.3 221.9 L243.2 214.5 L246.1 211.4 L249 209.1 L251.8 209.6 L254.7 212.4 L257.6 218.5 L260.5 224.2 L263.3 233.6 L266.2 244.9 L269.1 257.1 L272 269.3 L274.8 283.5 L277.7 298.8 L280.6 314.3 L283.5 328.9 L286.3 343.6 L289.2 357.5 L292.1 370.3 L295 382.4 L297.8 392.9 L300.7 407.8 L303.6 415.2 L306.5 420.9 L309.3 424.6 L312.2 427.6 L315.1 430 L317.9 430.4 L320.8 429.3 L323.7 428.1 L326.6 426.9 L329.4 425.6 L332.3 424.1 L335.2 422.8 L338.1 421.6 L340.9 420.5 L343.8 419.6 L346.7 418.9 L349.6 418.4 L352.4 418.3 L355.3 418.4 L358.2 419.2 L361.1 420.5 L363.9 422.2 L366.8 423.9 L369.7 425.9 L372.6 427.8 L375.4 429.3 L378.3 430.6 L381.2 431.5 L384.1 432 L386.9 432.5 L389.8 432.4 L392.7 432.2 L395.6 431.9 L398.4 431.6 L401.3 431.5 L404.2 431.4 L407.1 431.4 L409.9 431.6 L412.8 432.1 L415.7 432.8 L418.6 433.7 L421.4 434.8 L424.3 436.1 L427.2 437.5 L430.1 439.3 L432.9 441.2 L435.8 443.3 L438.7 445.3 L441.5 447.4 L444.4 449.3 L447.3 451 L450.2 452.5 L453 453.9 L455.9 454.7 L458.8 455 L461.7 454.9 L464.5 454.5 L467.4 453.9 L470.3 453.3 L473.2 452.7 L476 452.2 L478.9 451.6 L481.8 451 L484.7 450.4 L487.5 449.9 L490.4 449.3 L493.3 448.7 L496.2 448.1 L499 447.6 L501.9 447.3 L504.8 446.9 L507.7 446.7 L510.5 446.4 L513.4 446.2 L516.3 446.1 L519.2 446.1 L522 446.2 L524.9 446.3 L527.8 446.5 L530.7 446.8 L533.5 447.1 L536.4 447.5 L539.3 447.8 L542.2 448.2 L545 448.5 L547.9 448.9 L550.8 449.3 L553.6 449.7 L556.5 450.1 L559.4 450.4 L562.3 450.9 L565.1 451.4 L568 451.9 L570.9 452.4 L573.8 453 L576.6 453.6 L579.5 454.2 L582.4 454.8 L585.3 455.5 L588.1 456.1 L591 456.6 L593.9 457.1 L596.8 457.6 L599.6 458.1 L602.5 458.4 L605.4 458.8 L608.3 459.1 L611.1 459.4 L614 459.7 L616.9 459.9 L619.8 460.2 L622.6 460.6 L625.5 460.9 L628.4 461.1 L631.3 461.3 L634.1 461.4 L637 461.5 L639.9 461.7 L642.8 461.8 L645.6 462 L648.5 462.1 L651.4 462.2 L654.3 462.4 L657.1 462.5 L660 462.5" fill="none" stroke="#2372e0" stroke-width="2.2"/>
<path d="M88 458.2L92 464.9L84 464.9zM90.9 458.2L94.9 464.9L86.9 464.9zM93.7 458.2L97.7 464.9L89.7 464.9zM96.6 458.2L100.6 464.9L92.6 464.9zM99.5 458.2L103.5 464.9L95.5 464.9zM102.4 458.2L106.4 464.9L98.4 464.9zM105.2 458.3L109.2 465L101.2 465zM108.1 458.3L112.1 465L104.1 465zM111 458.3L115 465L107 465zM113.9 458.3L117.9 465L109.9 465zM116.7 458.3L120.7 465L112.7 465zM119.6 458.3L123.6 465L115.6 465zM122.5 458.3L126.5 465L118.5 465zM125.4 458.3L129.4 465L121.4 465zM128.2 458.3L132.2 465L124.2 465zM131.1 458.2L135.1 464.9L127.1 464.9zM134 458.2L138 464.9L130 464.9zM136.9 458.2L140.9 464.9L132.9 464.9zM139.7 458.2L143.7 464.9L135.7 464.9zM142.6 458.2L146.6 464.9L138.6 464.9zM145.5 458.2L149.5 464.9L141.5 464.9zM148.4 458.2L152.4 464.9L144.4 464.9zM151.2 458.2L155.2 464.9L147.2 464.9zM154.1 458.2L158.1 464.9L150.1 464.9zM157 458.1L161 464.8L153 464.8zM159.9 458.1L163.9 464.8L155.9 464.8zM162.7 458L166.7 464.7L158.7 464.7zM165.6 457.9L169.6 464.6L161.6 464.6zM168.5 457.8L172.5 464.5L164.5 464.5zM171.4 457.1L175.4 463.8L167.4 463.8zM174.2 455.9L178.2 462.6L170.2 462.6zM177.1 454.1L181.1 460.8L173.1 460.8zM180 451.7L184 458.4L176 458.4zM182.9 447.9L186.9 454.6L178.9 454.6zM185.7 443.7L189.7 450.4L181.7 450.4zM188.6 438.8L192.6 445.5L184.6 445.5zM191.5 432.8L195.5 439.5L187.5 439.5zM194.4 425.9L198.4 432.6L190.4 432.6zM197.2 417.3L201.2 424L193.2 424zM200.1 407L204.1 413.7L196.1 413.7zM203 395.2L207 401.9L199 401.9zM205.8 383.6L209.8 390.3L201.8 390.3zM208.7 369.6L212.7 376.3L204.7 376.3zM211.6 355.6L215.6 362.3L207.6 362.3zM214.5 340.5L218.5 347.2L210.5 347.2zM217.3 325.1L221.3 331.8L213.3 331.8zM220.2 308.9L224.2 315.6L216.2 315.6zM223.1 292.6L227.1 299.3L219.1 299.3zM226 277.6L230 284.3L222 284.3zM228.8 262.1L232.8 268.8L224.8 268.8zM231.7 248.4L235.7 255.1L227.7 255.1zM234.6 236.4L238.6 243.1L230.6 243.1zM237.5 225.8L241.5 232.5L233.5 232.5zM240.3 217.5L244.3 224.2L236.3 224.2zM243.2 210.1L247.2 216.8L239.2 216.8zM246.1 207L250.1 213.7L242.1 213.7zM249 204.7L253 211.4L245 211.4zM251.8 205.2L255.8 211.9L247.8 211.9zM254.7 208L258.7 214.7L250.7 214.7zM257.6 214.1L261.6 220.8L253.6 220.8zM260.5 219.8L264.5 226.5L256.5 226.5zM263.3 229.2L267.3 235.9L259.3 235.9zM266.2 240.5L270.2 247.2L262.2 247.2zM269.1 252.7L273.1 259.4L265.1 259.4zM272 264.9L276 271.6L268 271.6zM274.8 279.1L278.8 285.8L270.8 285.8zM277.7 294.4L281.7 301.1L273.7 301.1zM280.6 309.9L284.6 316.6L276.6 316.6zM283.5 324.5L287.5 331.2L279.5 331.2zM286.3 339.2L290.3 345.9L282.3 345.9zM289.2 353.1L293.2 359.8L285.2 359.8zM292.1 365.9L296.1 372.6L288.1 372.6zM295 378L299 384.7L291 384.7zM297.8 388.5L301.8 395.2L293.8 395.2zM300.7 403.4L304.7 410.1L296.7 410.1zM303.6 410.8L307.6 417.5L299.6 417.5zM306.5 416.5L310.5 423.2L302.5 423.2zM309.3 420.2L313.3 426.9L305.3 426.9zM312.2 423.2L316.2 429.9L308.2 429.9zM315.1 425.6L319.1 432.3L311.1 432.3zM317.9 426L321.9 432.7L313.9 432.7zM320.8 424.9L324.8 431.6L316.8 431.6zM323.7 423.7L327.7 430.4L319.7 430.4zM326.6 422.5L330.6 429.2L322.6 429.2zM329.4 421.2L333.4 427.9L325.4 427.9zM332.3 419.7L336.3 426.4L328.3 426.4zM335.2 418.4L339.2 425.1L331.2 425.1zM338.1 417.2L342.1 423.9L334.1 423.9zM340.9 416.1L344.9 422.8L336.9 422.8zM343.8 415.2L347.8 421.9L339.8 421.9zM346.7 414.5L350.7 421.2L342.7 421.2zM349.6 414L353.6 420.7L345.6 420.7zM352.4 413.9L356.4 420.6L348.4 420.6zM355.3 414L359.3 420.7L351.3 420.7zM358.2 414.8L362.2 421.5L354.2 421.5zM361.1 416.1L365.1 422.8L357.1 422.8zM363.9 417.8L367.9 424.5L359.9 424.5zM366.8 419.5L370.8 426.2L362.8 426.2zM369.7 421.5L373.7 428.2L365.7 428.2zM372.6 423.4L376.6 430.1L368.6 430.1zM375.4 424.9L379.4 431.6L371.4 431.6zM378.3 426.2L382.3 432.9L374.3 432.9zM381.2 427.1L385.2 433.8L377.2 433.8zM384.1 427.6L388.1 434.3L380.1 434.3zM386.9 428.1L390.9 434.8L382.9 434.8zM389.8 428L393.8 434.7L385.8 434.7zM392.7 427.8L396.7 434.5L388.7 434.5zM395.6 427.5L399.6 434.2L391.6 434.2zM398.4 427.2L402.4 433.9L394.4 433.9zM401.3 427.1L405.3 433.8L397.3 433.8zM404.2 427L408.2 433.7L400.2 433.7zM407.1 427L411.1 433.7L403.1 433.7zM409.9 427.2L413.9 433.9L405.9 433.9zM412.8 427.7L416.8 434.4L408.8 434.4zM415.7 428.4L419.7 435.1L411.7 435.1zM418.6 429.3L422.6 436L414.6 436zM421.4 430.4L425.4 437.1L417.4 437.1zM424.3 431.7L428.3 438.4L420.3 438.4zM427.2 433.1L431.2 439.8L423.2 439.8zM430.1 434.9L434.1 441.6L426.1 441.6zM432.9 436.8L436.9 443.5L428.9 443.5zM435.8 438.9L439.8 445.6L431.8 445.6zM438.7 440.9L442.7 447.6L434.7 447.6zM441.5 443L445.5 449.7L437.5 449.7zM444.4 444.9L448.4 451.6L440.4 451.6zM447.3 446.6L451.3 453.3L443.3 453.3zM450.2 448.1L454.2 454.8L446.2 454.8zM453 449.5L457 456.2L449 456.2zM455.9 450.3L459.9 457L451.9 457zM458.8 450.6L462.8 457.3L454.8 457.3zM461.7 450.5L465.7 457.2L457.7 457.2zM464.5 450.1L468.5 456.8L460.5 456.8zM467.4 449.5L471.4 456.2L463.4 456.2zM470.3 448.9L474.3 455.6L466.3 455.6zM473.2 448.3L477.2 455L469.2 455zM476 447.8L480 454.5L472 454.5zM478.9 447.2L482.9 453.9L474.9 453.9zM481.8 446.6L485.8 453.3L477.8 453.3zM484.7 446L488.7 452.7L480.7 452.7zM487.5 445.5L491.5 452.2L483.5 452.2zM490.4 444.9L494.4 451.6L486.4 451.6zM493.3 444.3L497.3 451L489.3 451zM496.2 443.7L500.2 450.4L492.2 450.4zM499 443.2L503 449.9L495 449.9zM501.9 442.9L505.9 449.6L497.9 449.6zM504.8 442.5L508.8 449.2L500.8 449.2zM507.7 442.3L511.7 449L503.7 449zM510.5 442L514.5 448.7L506.5 448.7zM513.4 441.8L517.4 448.5L509.4 448.5zM516.3 441.7L520.3 448.4L512.3 448.4zM519.2 441.7L523.2 448.4L515.2 448.4zM522 441.8L526 448.5L518 448.5zM524.9 441.9L528.9 448.6L520.9 448.6zM527.8 442.1L531.8 448.8L523.8 448.8zM530.7 442.4L534.7 449.1L526.7 449.1zM533.5 442.7L537.5 449.4L529.5 449.4zM536.4 443.1L540.4 449.8L532.4 449.8zM539.3 443.4L543.3 450.1L535.3 450.1zM542.2 443.8L546.2 450.5L538.2 450.5zM545 444.1L549 450.8L541 450.8zM547.9 444.5L551.9 451.2L543.9 451.2zM550.8 444.9L554.8 451.6L546.8 451.6zM553.6 445.3L557.6 452L549.6 452zM556.5 445.7L560.5 452.4L552.5 452.4zM559.4 446L563.4 452.7L555.4 452.7zM562.3 446.5L566.3 453.2L558.3 453.2zM565.1 447L569.1 453.7L561.1 453.7zM568 447.5L572 454.2L564 454.2zM570.9 448L574.9 454.7L566.9 454.7zM573.8 448.6L577.8 455.3L569.8 455.3zM576.6 449.2L580.6 455.9L572.6 455.9zM579.5 449.8L583.5 456.5L575.5 456.5zM582.4 450.4L586.4 457.1L578.4 457.1zM585.3 451.1L589.3 457.8L581.3 457.8zM588.1 451.7L592.1 458.4L584.1 458.4zM591 452.2L595 458.9L587 458.9zM593.9 452.7L597.9 459.4L589.9 459.4zM596.8 453.2L600.8 459.9L592.8 459.9zM599.6 453.7L603.6 460.4L595.6 460.4zM602.5 454L606.5 460.7L598.5 460.7zM605.4 454.4L609.4 461.1L601.4 461.1zM608.3 454.7L612.3 461.4L604.3 461.4zM611.1 455L615.1 461.7L607.1 461.7zM614 455.3L618 462L610 462zM616.9 455.5L620.9 462.2L612.9 462.2zM619.8 455.8L623.8 462.5L615.8 462.5zM622.6 456.2L626.6 462.9L618.6 462.9zM625.5 456.5L629.5 463.2L621.5 463.2zM628.4 456.7L632.4 463.4L624.4 463.4zM631.3 456.9L635.3 463.6L627.3 463.6zM634.1 457L638.1 463.7L630.1 463.7zM637 457.1L641 463.8L633 463.8zM639.9 457.3L643.9 464L635.9 464zM642.8 457.4L646.8 464.1L638.8 464.1zM645.6 457.6L649.6 464.3L641.6 464.3zM648.5 457.7L652.5 464.4L644.5 464.4zM651.4 457.8L655.4 464.5L647.4 464.5zM654.3 458L658.3 464.7L650.3 464.7zM657.1 458.1L661.1 464.8L653.1 464.8zM660 458.1L664 464.8L656 464.8z" fill="#0b4a7e"/>
</g>
<text x="72.3" y="470.2" text-anchor="end" class="t">0</text>
<text x="72.3" y="378.8" text-anchor="end" class="t">50</text>
<text x="72.3" y="287.5" text-anchor="end" class="t">100</text>
<text x="72.3" y="196.1" text-anchor="end" class="t">150</text>
<text x="72.3" y="104.8" text-anchor="end" class="t">200</text>
<text x="72.3" y="13.4" text-anchor="end" class="t">250</text>
<text x="87.7" y="493.9" text-anchor="middle" class="t">0. 01</text>
<text x="183.3" y="493.9" text-anchor="middle" class="t">0. 1</text>
<text x="278.9" y="493.9" text-anchor="middle" class="t">1</text>
<text x="374.4" y="493.9" text-anchor="middle" class="t">10</text>
<text x="470" y="493.9" text-anchor="middle" class="t">100</text>
<text x="565.6" y="493.9" text-anchor="middle" class="t">1000</text>
<text x="661.2" y="493.9" text-anchor="middle" class="t">10000</text>
<text x="374.5" y="527.2" text-anchor="middle" class="xt">Relaxation time(ms)</text>
<text transform="translate(17.4 219.3) rotate(-90)" text-anchor="middle" class="yt">Signal strength</text>
<line x1="497.5" y1="32.1" x2="547.5" y2="32.1" stroke="#666666" stroke-width="2"/>
<rect x="519.6" y="29.4" width="5.4" height="5.4" fill="#000"/>
<text x="552.8" y="40.1" class="lg">CGC-100</text>
<line x1="497.5" y1="61.5" x2="547.5" y2="61.5" stroke="#f23c3c" stroke-width="2"/>
<circle cx="522.4" cy="61.5" r="3.1" fill="#ff0000"/>
<text x="552.8" y="69.5" class="lg">CGC-10</text>
<line x1="497.5" y1="90.4" x2="547.5" y2="90.4" stroke="#2372e0" stroke-width="2.2"/>
<path d="M522.5 85.8L526.5 92.6L518.5 92.6z" fill="#0b4a7e"/>
<text x="552.8" y="98.4" class="lg">CGC-0</text>
</svg>
</body></html>
